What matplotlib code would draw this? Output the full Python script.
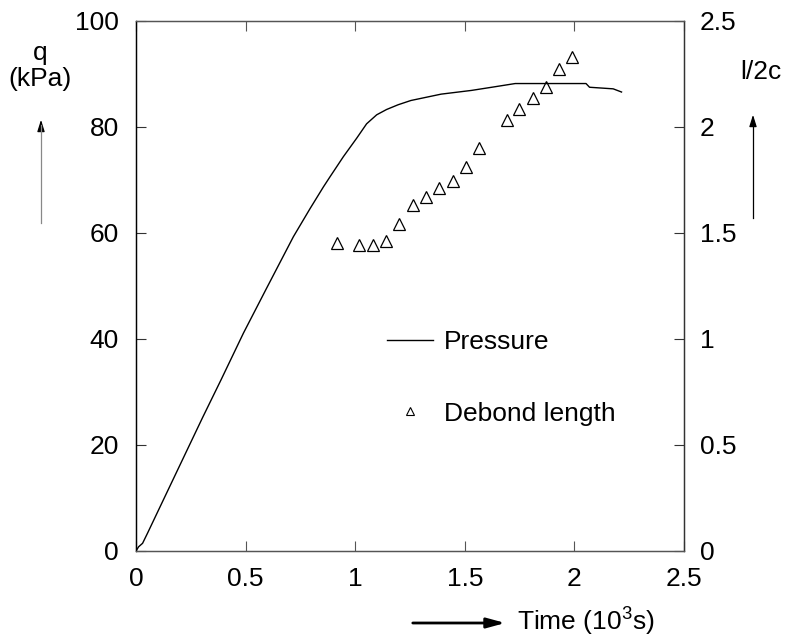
import matplotlib
matplotlib.use("Agg")
import matplotlib.pyplot as plt
from matplotlib.lines import Line2D

plt.rcParams['font.family'] = ['Liberation Sans', 'DejaVu Sans']
plt.rcParams['mathtext.default'] = 'regular'

# ---- data ----
time_p = [0, 0.012, 0.03, 0.053, 0.122, 0.198, 0.304, 0.388, 0.49, 0.596,
          0.718, 0.794, 0.855, 0.885, 0.946, 1.007, 1.052, 1.098, 1.143,
          1.196, 1.254, 1.392, 1.53, 1.623, 1.73, 1.85, 2.053, 2.069, 2.177,
          2.215]
pressure = [0, 0.8, 1.45, 3.4, 9.4, 16.0, 25.2, 32.3, 41.1, 49.6,
            59.3, 64.6, 68.7, 70.6, 74.4, 77.9, 80.6, 82.3, 83.3,
            84.2, 85.0, 86.2, 86.9, 87.5, 88.2, 88.2, 88.2, 87.5, 87.2,
            86.6]

time_d = [0.917, 1.018, 1.080, 1.141, 1.201, 1.263, 1.323, 1.383, 1.448, 1.506,
          1.566, 1.691, 1.749, 1.809, 1.870, 1.931, 1.991]
debond = [1.453, 1.445, 1.445, 1.464, 1.544, 1.634, 1.668, 1.714, 1.747, 1.812,
          1.903, 2.033, 2.083, 2.135, 2.191, 2.275, 2.331]

x_ticks = [0, 0.5, 1, 1.5, 2, 2.5]
x_labels = ['0', '0.5', '1', '1.5', '2', '2.5']
yl_ticks = [0, 20, 40, 60, 80, 100]
yr_ticks = [0, 0.5, 1, 1.5, 2, 2.5]
yr_labels = ['0', '0.5', '1', '1.5', '2', '2.5']

W, H = 785, 640
fig = plt.figure(figsize=(W / 100, H / 100), dpi=100)
ax = fig.add_axes([136 / W, 1 - 551 / H, 548 / W, 530 / H])
ax2 = ax.twinx()

FS = 19
lp, = ax.plot(time_p, pressure, color='black', lw=1.0)
mp, = ax2.plot(time_d, debond, linestyle='none', marker='^', ms=8.5,
               mfc='none', mec='black', mew=0.9)

ax.set_xlim(0, 2.5)
ax.set_ylim(0, 100)
ax2.set_ylim(0, 2.5)
ax.set_xticks(x_ticks)
ax.set_xticklabels(x_labels)
ax.set_yticks(yl_ticks)
ax2.set_yticks(yr_ticks)
ax2.set_yticklabels(yr_labels)

ax.tick_params(axis='x', direction='in', length=7.2, width=0.8, top=True,
               labelsize=FS, pad=11.5, color='#555555')
ax.tick_params(axis='y', direction='in', length=7.2, width=0.8,
               labelsize=FS, pad=12.5, color='#333333')
ax2.tick_params(axis='y', direction='in', length=7.2, width=0.8,
                labelsize=FS, pad=11.5, color='#333333')
for a in (ax, ax2):
    a.spines['bottom'].set_color('#555555')
    a.spines['top'].set_color('#555555')
    a.spines['left'].set_color('black')
    a.spines['right'].set_color('#333333')
    for s in a.spines.values():
        s.set_linewidth(0.9)

# legend
h1 = Line2D([], [], color='black', lw=1.0)
h2 = Line2D([], [], linestyle='none', marker='^', ms=5.5, mfc='none',
            mec='black', mew=0.8)
fig.legend([h1, h2], ['Pressure', 'Debond length'], loc='upper left',
           bbox_to_anchor=(387 / W, 1 - 330 / H), frameon=False,
           fontsize=FS, handlelength=1.75, handletextpad=0.4,
           labelspacing=1.8, borderpad=0, borderaxespad=0)

# axis labels
fig.text(40 / W, 1 - 66 / H, 'q\n(kPa)', ha='center', va='center',
         fontsize=FS, linespacing=1.1)
fig.text(761 / W, 1 - 72 / H, 'l/2c', ha='center', va='center', fontsize=FS)
fig.text(517 / W, 1 - 622 / H, 'Time (10$^3$s)', ha='left', va='center',
         fontsize=FS)

# arrows
def fp(x, y):
    return (x / W, 1 - y / H)

fig.add_artist(Line2D([41 / W, 41 / W], [1 - 223 / H, 1 - 125 / H],
                      color='#888888', lw=0.9))
ax.annotate('', xy=fp(41, 117), xytext=fp(41, 132), xycoords='figure fraction',
            textcoords='figure fraction',
            arrowprops=dict(arrowstyle='-|>,head_length=0.7,head_width=0.22',
                            color='black', lw=0.9))
fig.add_artist(Line2D([753 / W, 753 / W], [1 - 218 / H, 1 - 120 / H],
                      color='black', lw=0.9))
ax.annotate('', xy=fp(753, 112), xytext=fp(753, 127), xycoords='figure fraction',
            textcoords='figure fraction',
            arrowprops=dict(arrowstyle='-|>,head_length=0.7,head_width=0.22',
                            color='black', lw=0.9))
ax.annotate('', xy=fp(508, 623), xytext=fp(410, 623), xycoords='figure fraction',
            textcoords='figure fraction',
            arrowprops=dict(arrowstyle='-|>,head_length=1.1,head_width=0.3',
                            color='black', lw=2.0))

fig.savefig('out.png', dpi=100, facecolor='white')
